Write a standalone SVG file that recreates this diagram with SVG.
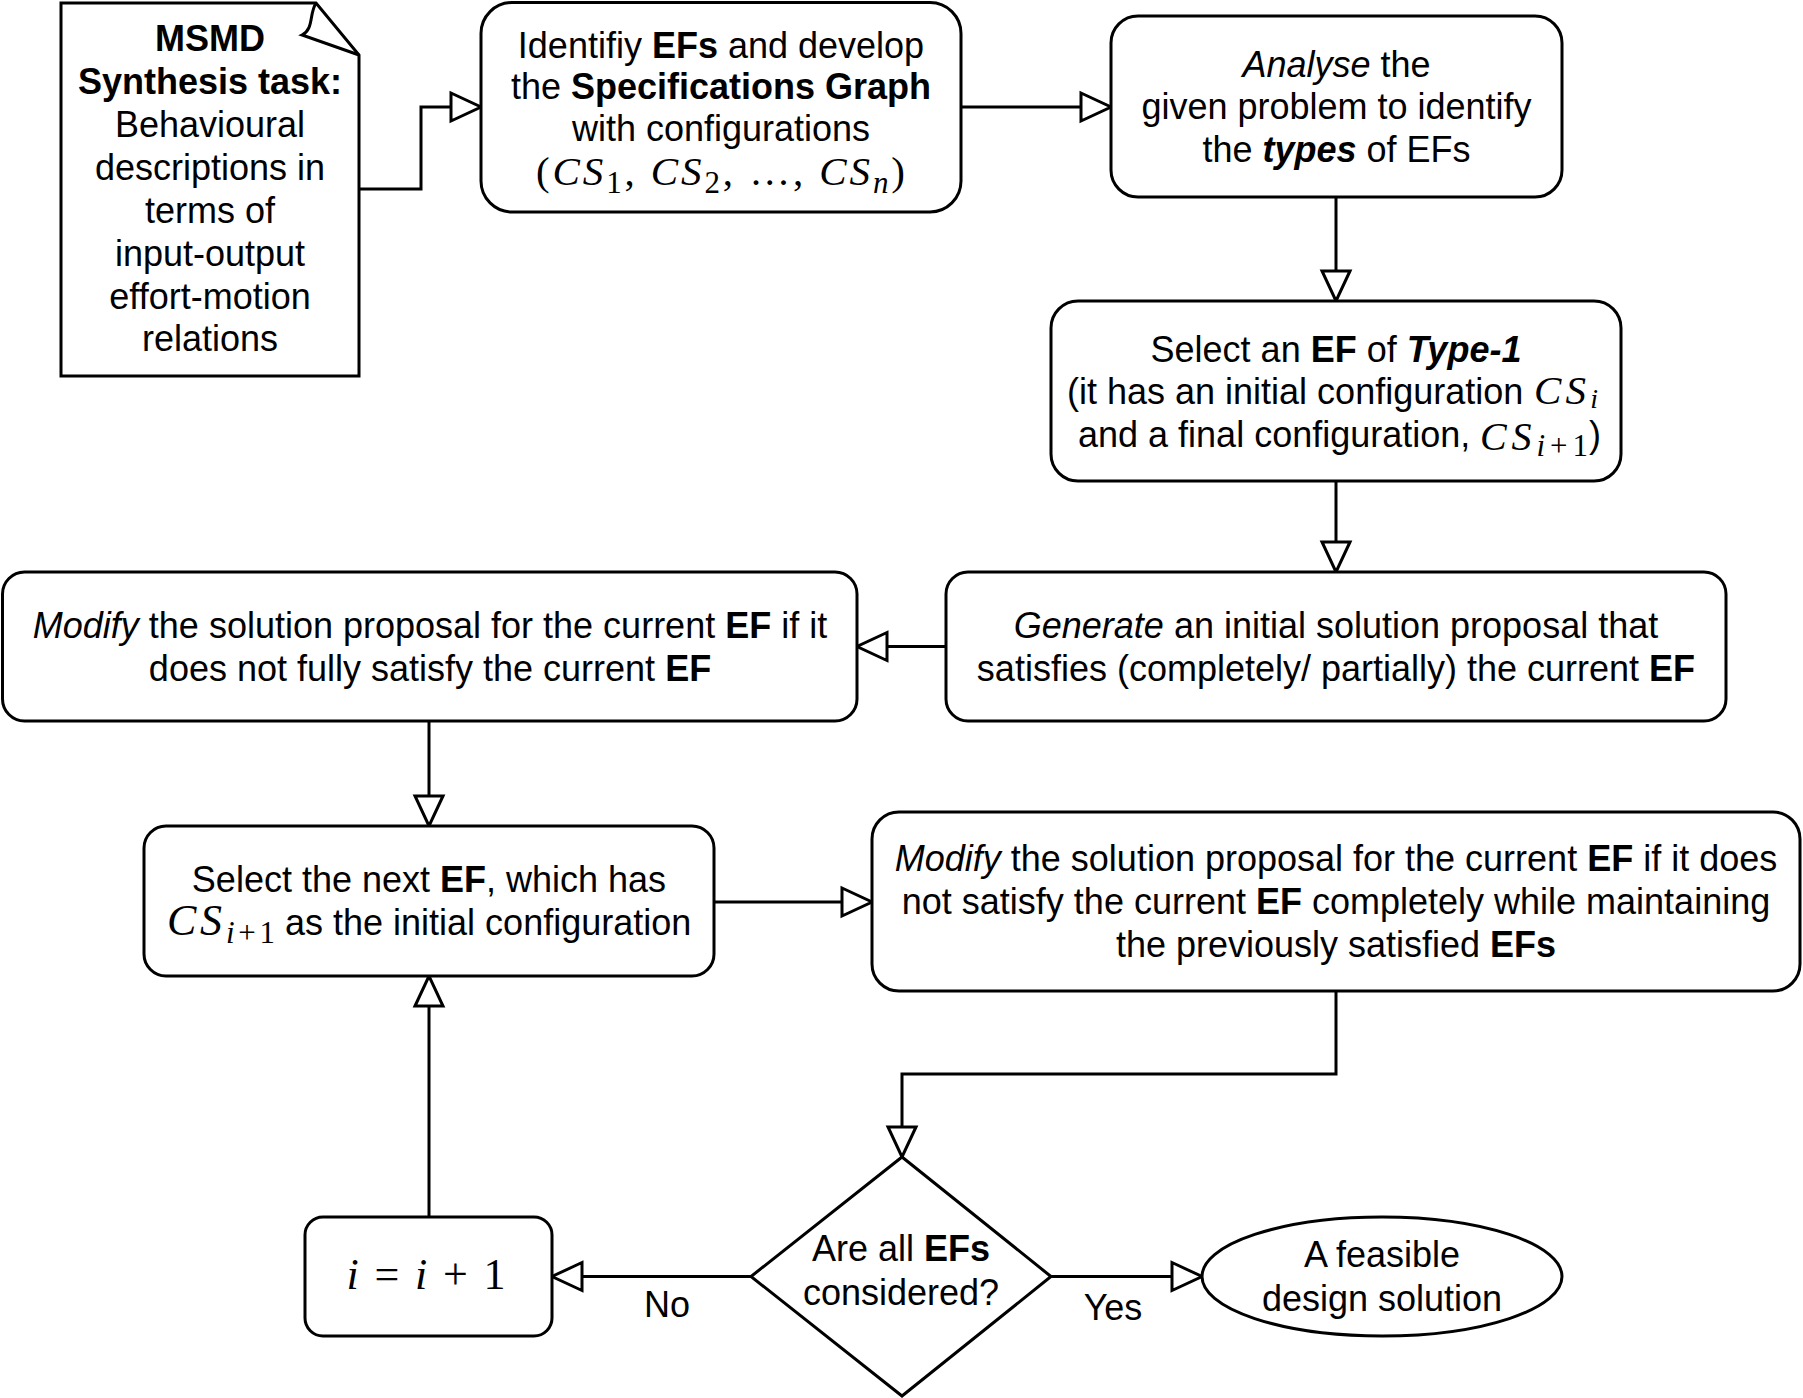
<svg xmlns="http://www.w3.org/2000/svg" width="1803" height="1398" viewBox="0 0 1803 1398">
<style>
.box{fill:#fff;stroke:#000;stroke-width:3}
.t{font-family:"Liberation Sans",Arial,sans-serif;font-size:36px;fill:#000;text-anchor:middle}
.s{font-family:"Liberation Sans",Arial,sans-serif;font-size:36px;fill:#000}
.b{font-weight:bold}
.i{font-style:italic}
.m{font-family:"Liberation Serif","Times New Roman",serif;font-size:44px;fill:#000}
.m2{font-size:41px}
.m3{font-size:40px}
.mi{font-style:italic}
.sb{font-size:31px}
.sb2{font-size:28px}
.edge{fill:none;stroke:#000;stroke-width:3;marker-end:url(#arr)}
</style>
<defs>
<marker id="arr" markerUnits="userSpaceOnUse" markerWidth="40" markerHeight="40" viewBox="-4 -4 40 40" refX="30" refY="14" orient="auto">
<path d="M0,0 L30,14 L0,28 Z" fill="#fff" stroke="#000" stroke-width="3"/>
</marker>
</defs>
<rect width="1803" height="1398" fill="#fff"/>
<g id="connectors">
<path class="edge" d="M359,189 H421 V107 H481"/>
<path class="edge" d="M961,107 H1111"/>
<path class="edge" d="M1336,197 V301"/>
<path class="edge" d="M1336,481 V572"/>
<path class="edge" d="M946,646.5 H857"/>
<path class="edge" d="M429,721 V826"/>
<path class="edge" d="M714,902 H872"/>
<path class="edge" d="M1336,991 V1074 H902 V1157"/>
<path class="edge" d="M751,1276.5 H552"/>
<path class="edge" d="M429,1217 V976"/>
<path class="edge" d="M1051,1276.5 H1202"/>
<text class="t" x="667" y="1317">No</text>
<text class="t" x="1113" y="1320">Yes</text>
</g>
<g id="task">
<path class="box" d="M61,3 H316 L359,55 V376 H61 Z"/>
<path fill="none" stroke="#000" stroke-width="3" d="M316,3 C309,14 314,29 302,35 L359,55"/>
<text class="t b" x="210" y="51">MSMD</text>
<text class="t b" x="210" y="94">Synthesis task:</text>
<text class="t" x="210" y="137">Behavioural</text>
<text class="t" x="210" y="180">descriptions in</text>
<text class="t" x="210" y="223">terms of</text>
<text class="t" x="210" y="266">input-output</text>
<text class="t" x="210" y="309">effort-motion</text>
<text class="t" x="210" y="351">relations</text>
</g>
<g id="identify">
<rect class="box" x="481" y="2.5" width="480" height="209.5" rx="31" ry="31"/>
<text class="t" x="721" y="58">Identifiy <tspan class="b">EFs</tspan> and develop</text>
<text class="t" x="721" y="99">the <tspan class="b">Specifications Graph</tspan></text>
<text class="t" x="721" y="141">with configurations</text>
<text class="m m2" x="720.5" y="185" text-anchor="middle" textLength="369" lengthAdjust="spacing">(<tspan class="mi">CS</tspan><tspan class="sb" dy="8">1</tspan><tspan dy="-8">, </tspan><tspan class="mi">CS</tspan><tspan class="sb" dy="8">2</tspan><tspan dy="-8">, …, </tspan><tspan class="mi">CS</tspan><tspan class="sb mi" dy="8">n</tspan><tspan dy="-8">)</tspan></text>
</g>
<g id="analyse">
<rect class="box" x="1111" y="16" width="451" height="181" rx="27" ry="27"/>
<text class="t" x="1336.5" y="77"><tspan class="i">Analyse</tspan> the</text>
<text class="t" x="1336.5" y="119">given problem to identify</text>
<text class="t" x="1336.5" y="162">the <tspan class="b i">types</tspan> of EFs</text>
</g>
<g id="select-type1">
<rect class="box" x="1051" y="301" width="570" height="180" rx="27" ry="27"/>
<text class="t" x="1336" y="362">Select an <tspan class="b">EF</tspan> of <tspan class="b i">Type-1</tspan></text>
<text class="s" x="1067" y="404">(it has an initial configuration</text>
<text class="m m2" x="1534" y="404" textLength="64" lengthAdjust="spacing"><tspan class="mi">CS</tspan><tspan class="sb2 mi" dy="4">i</tspan></text>
<text class="s" x="1078" y="447">and a final configuration,</text>
<text class="m m3" x="1480" y="450" textLength="108" lengthAdjust="spacing"><tspan class="mi">CS</tspan><tspan class="sb" dy="6"><tspan class="mi">i</tspan>+1</tspan></text>
<text class="s" x="1589" y="447">)</text>
</g>
<g id="generate">
<rect class="box" x="946" y="572" width="780" height="149" rx="22" ry="22"/>
<text class="t" x="1336" y="638"><tspan class="i">Generate</tspan> an initial solution proposal that</text>
<text class="t" x="1336" y="681">satisfies (completely/ partially) the current <tspan class="b">EF</tspan></text>
</g>
<g id="modify-current">
<rect class="box" x="2.5" y="572" width="854.5" height="149" rx="22" ry="22"/>
<text class="t" x="430" y="638"><tspan class="i">Modify</tspan> the solution proposal for the current <tspan class="b">EF</tspan> if it</text>
<text class="t" x="430" y="681">does not fully satisfy the current <tspan class="b">EF</tspan></text>
</g>
<g id="select-next">
<rect class="box" x="144" y="826" width="570" height="150" rx="22" ry="22"/>
<text class="t" x="429" y="892">Select the next <tspan class="b">EF</tspan>, which has</text>
<text class="m" x="167" y="935" textLength="108" lengthAdjust="spacing"><tspan class="mi">CS</tspan><tspan class="sb" dy="8"><tspan class="mi">i</tspan>+1</tspan></text>
<text class="s" x="285" y="935">as the initial configuration</text>
</g>
<g id="modify-maintain">
<rect class="box" x="872" y="812" width="928" height="179" rx="27" ry="27"/>
<text class="t" x="1336" y="871"><tspan class="i">Modify</tspan> the solution proposal for the current <tspan class="b">EF</tspan> if it does</text>
<text class="t" x="1336" y="914">not satisfy the current <tspan class="b">EF</tspan> completely while maintaining</text>
<text class="t" x="1336" y="957">the previously satisfied <tspan class="b">EFs</tspan></text>
</g>
<g id="decision">
<polygon class="box" points="902,1157 1051,1276.5 902,1396 751,1276.5"/>
<text class="t" x="901" y="1261">Are all <tspan class="b">EFs</tspan></text>
<text class="t" x="901" y="1305">considered?</text>
</g>
<g id="increment">
<rect class="box" x="305" y="1217" width="247" height="119" rx="18" ry="18"/>
<text class="m" x="426" y="1289" text-anchor="middle" textLength="159" lengthAdjust="spacing"><tspan class="mi">i</tspan> = <tspan class="mi">i</tspan> + 1</text>
</g>
<g id="solution">
<ellipse class="box" cx="1382" cy="1276.5" rx="180" ry="59.5"/>
<text class="t" x="1382" y="1267">A feasible</text>
<text class="t" x="1382" y="1311">design solution</text>
</g>
</svg>
